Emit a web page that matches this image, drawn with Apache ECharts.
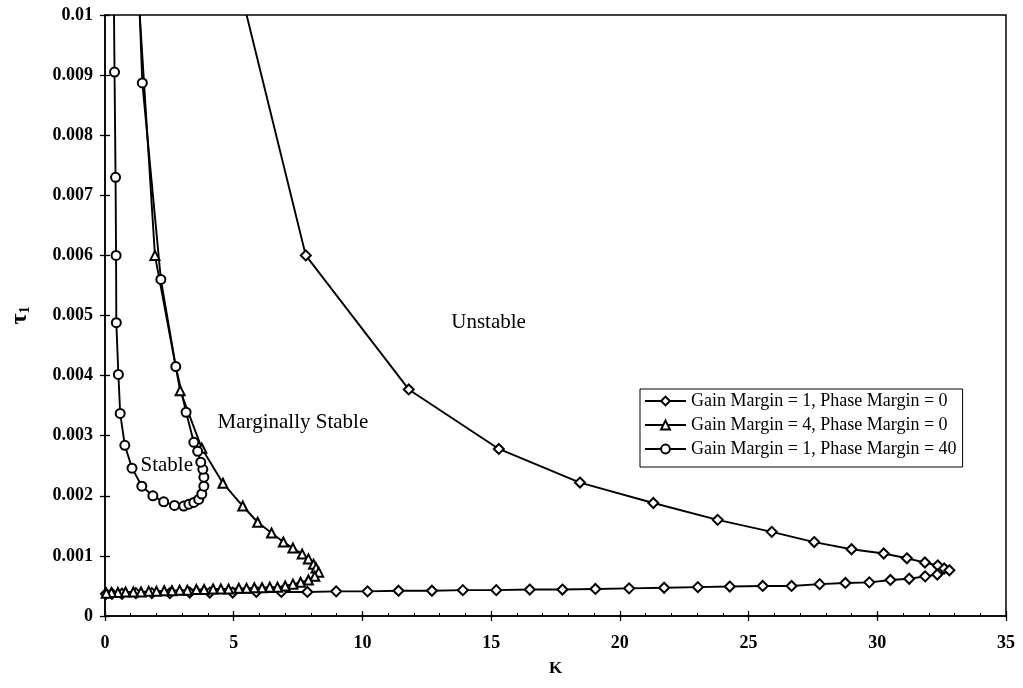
<!DOCTYPE html>
<html>
<head>
<meta charset="utf-8">
<title>Stability regions</title>
<script src="https://cdn.jsdelivr.net/npm/echarts@6/dist/echarts.min.js"></script>
<style>
  html, body { margin: 0; padding: 0; background: #fff; }
  #chart { width: 1023px; height: 688px; }
</style>
</head>
<body>
<div id="chart"></div>
<script>
// Gain Margin = 1, Phase Margin = 0 (diamonds)
const gm1pm0K = [5.5, 7.8, 11.8, 15.3, 18.45, 21.3, 23.8, 25.9, 27.55, 29.0, 30.25, 31.15, 31.85, 32.35, 32.6, 32.8,
  32.33, 31.86, 31.24, 30.51, 29.69, 28.76, 27.76, 26.67, 25.55, 24.27, 23.03, 21.72, 20.36, 19.05, 17.77,
  16.5, 15.2, 13.9, 12.7, 11.4, 10.2, 8.98, 7.86, 6.85, 5.88, 4.96, 4.07, 3.29, 2.52, 1.82, 1.2, 0.66, 0.27, 0.04];
const gm1pm0T = [0.0100, 0.0060, 0.00377, 0.00278, 0.00222, 0.00188, 0.00160, 0.00140, 0.00123, 0.00111, 0.00104, 0.00096, 0.00089, 0.00084, 0.00079, 0.00076,
  0.00069, 0.00066, 0.00062, 0.00060, 0.00056, 0.00055, 0.00053, 0.00050, 0.00050, 0.00049, 0.00048, 0.00047, 0.00046, 0.00045, 0.00044,
  0.00044, 0.00043, 0.00043, 0.00042, 0.00042, 0.00041, 0.00041, 0.00040, 0.00040, 0.00040, 0.00039, 0.00039, 0.00039, 0.00038, 0.00038, 0.00038, 0.00037, 0.00037, 0.00037];

// Gain Margin = 4, Phase Margin = 0 (triangles)
const gm4pm0K = [1.35, 1.94, 2.92, 3.76, 4.58, 5.35, 5.93, 6.47, 6.93, 7.3, 7.66, 7.9, 8.1, 8.2, 8.3,
  8.15, 7.9, 7.6, 7.3, 7.0, 6.7, 6.4, 6.1, 5.8, 5.5, 5.2, 4.8, 4.5, 4.2, 3.85, 3.55, 3.2,
  2.9, 2.6, 2.3, 2.0, 1.7, 1.4, 1.1, 0.8, 0.5, 0.25, 0.05];
const gm4pm0T = [0.0100, 0.00600, 0.00375, 0.00279, 0.00221, 0.00183, 0.00156, 0.00138, 0.00123, 0.00113, 0.00103, 0.00095, 0.00086, 0.00080, 0.00073,
  0.00066, 0.00060, 0.00056, 0.00053, 0.00050, 0.00048, 0.00048, 0.00047, 0.00047, 0.00046, 0.00046, 0.00045, 0.00045, 0.00045, 0.00044, 0.00044, 0.00043,
  0.00043, 0.00042, 0.00042, 0.00041, 0.00041, 0.00040, 0.00040, 0.00040, 0.00039, 0.00039, 0.00038];

// Gain Margin = 1, Phase Margin = 40 (circles)
const gm1pm40K = [0.35, 0.37, 0.41, 0.43, 0.44, 0.52, 0.59, 0.77, 1.05, 1.43, 1.86, 2.28, 2.7, 3.06, 3.26, 3.45, 3.64,
  3.76, 3.84, 3.84, 3.8, 3.72, 3.6, 3.45, 3.15, 2.75, 2.17, 1.45, 1.35];
const gm1pm40T = [0.0100, 0.00905, 0.00730, 0.00600, 0.00488, 0.00402, 0.00337, 0.00284, 0.00246, 0.00216, 0.00200, 0.00190, 0.00184, 0.00183, 0.00186, 0.00189, 0.00194,
  0.00203, 0.00216, 0.00231, 0.00244, 0.00256, 0.00274, 0.00289, 0.00339, 0.00415, 0.00560, 0.00887, 0.0100];

const seriesNames = [
  'Gain Margin = 1, Phase Margin = 0',
  'Gain Margin = 4, Phase Margin = 0',
  'Gain Margin = 1, Phase Margin = 40'
];

// axis ranges and tick spacing
const xTicks = { min: 0, max: 35, step: 5 };
const yTicks = { min: 0, max: 0.01, step: 0.001 };

const regionLabels = [
  { text: 'Unstable', K: 14.9, T: 0.00488 },
  { text: 'Marginally Stable', K: 7.3, T: 0.00322 },
  { text: 'Stable', K: 2.4, T: 0.00250 }
];

const serif = 'Liberation Serif, Times New Roman, serif';

// points lying on the top frame only carry the line, no marker
const pairs = (ks, ts) => ks.map((k, i) => (
  ts[i] >= yTicks.max ? { value: [k, ts[i]], symbol: 'none' } : [k, ts[i]]
));

const chart = echarts.init(document.getElementById('chart'), null, { renderer: 'canvas' });

function lineSeries(name, data, symbol, size) {
  return {
    name: name,
    type: 'line',
    data: data,
    xAxisIndex: 0,
    yAxisIndex: 0,
    symbol: symbol,
    symbolSize: size,
    showAllSymbol: true,
    clip: true,
    lineStyle: { color: '#000', width: 1.9 },
    itemStyle: { color: '#000', borderColor: '#000', borderWidth: 1.7 },
    emphasis: { disabled: true },
    z: 3
  };
}

const labelText = { color: '#000', fontFamily: serif, fontWeight: 'bold', fontSize: 18 };

const option = {
  animation: false,
  backgroundColor: '#fff',
  grid: {
    left: 104, right: 17, top: 15, bottom: 72,
    show: true, borderColor: '#000', borderWidth: 1.5, backgroundColor: 'transparent'
  },
  legend: {
    orient: 'vertical',
    left: 640, top: 389,
    padding: [3, 6, 9, 4],
    itemGap: 6,
    itemWidth: 41,
    itemHeight: 11,
    borderColor: '#000',
    borderWidth: 1,
    backgroundColor: '#fff',
    textStyle: { color: '#000', fontFamily: serif, fontSize: 18 },
    data: seriesNames
  },
  xAxis: [
    {
      type: 'value', position: 'bottom',
      min: xTicks.min, max: xTicks.max, interval: xTicks.step,
      axisLine: { show: true, lineStyle: { color: '#000', width: 1.5 } },
      axisTick: { show: true, inside: false, length: 5, lineStyle: { color: '#000', width: 1.3 } },
      axisLabel: Object.assign({ margin: 18 }, labelText),
      splitLine: { show: false },
      name: 'K', nameLocation: 'middle', nameGap: 44,
      nameTextStyle: { color: '#000', fontFamily: serif, fontWeight: 'bold', fontSize: 17 }
    },
    {
      type: 'value', position: 'bottom',
      min: xTicks.min, max: xTicks.max, interval: xTicks.step,
      axisLine: { show: false },
      axisTick: { show: true, inside: true, length: 5, lineStyle: { color: '#000', width: 1.3 } },
      minorTick: { show: true, splitNumber: 5, length: 3, lineStyle: { color: '#000', width: 1 } },
      axisLabel: { show: false },
      splitLine: { show: false }
    }
  ],
  yAxis: [
    {
      type: 'value', position: 'left',
      min: yTicks.min, max: yTicks.max, interval: yTicks.step,
      axisLine: { show: true, lineStyle: { color: '#000', width: 1.5 } },
      axisTick: { show: true, inside: false, length: 5, lineStyle: { color: '#000', width: 1.3 } },
      axisLabel: Object.assign({ margin: 12, formatter: (v) => String(+v.toFixed(3)) }, labelText),
      splitLine: { show: false },
      name: '{t|τ}{s|1}', nameLocation: 'middle', nameGap: 73, nameRotate: 90,
      nameTextStyle: {
        color: '#000', fontFamily: serif, fontWeight: 'bold',
        rich: {
          t: { fontFamily: serif, fontWeight: 'bold', fontSize: 24, color: '#000' },
          s: { fontFamily: serif, fontWeight: 'bold', fontSize: 14, color: '#000', verticalAlign: 'bottom', padding: [10, 0, 0, 0] }
        }
      }
    },
    {
      type: 'value', position: 'left',
      min: yTicks.min, max: yTicks.max, interval: yTicks.step,
      axisLine: { show: false },
      axisTick: { show: true, inside: true, length: 5, lineStyle: { color: '#000', width: 1.3 } },
      axisLabel: { show: false },
      splitLine: { show: false }
    }
  ],
  series: [
    lineSeries(seriesNames[0], pairs(gm1pm0K, gm1pm0T), 'emptyDiamond', [10, 10]),
    lineSeries(seriesNames[1], pairs(gm4pm0K, gm4pm0T), 'emptyTriangle', 9),
    lineSeries(seriesNames[2], pairs(gm1pm40K, gm1pm40T), 'emptyCircle', 9)
  ]
};

chart.setOption(option);

// region captions placed at data coordinates
chart.setOption({
  graphic: regionLabels.map((r) => {
    const p = chart.convertToPixel({ xAxisIndex: 0, yAxisIndex: 0 }, [r.K, r.T]);
    return {
      type: 'text', x: p[0], y: p[1], z: 10,
      style: { text: r.text, fill: '#000', font: '21px ' + serif, align: 'center', verticalAlign: 'middle' }
    };
  })
});
</script>
</body>
</html>
